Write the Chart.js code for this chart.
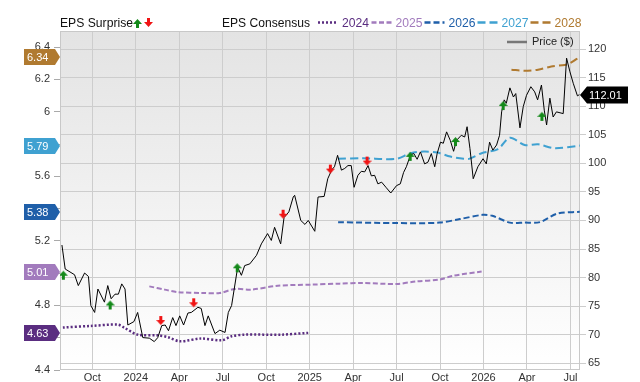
<!DOCTYPE html>
<html>
<head>
<meta charset="utf-8">
<script src="https://cdn.jsdelivr.net/npm/chart.js@4.4.1/dist/chart.umd.min.js"></script>
<style>
  body { margin: 0; background: #fff; }
  canvas { display: block; }
</style>
</head>
<body>
<canvas id="myChart" width="640" height="382"></canvas>
<script>
// x axis: quarter ticks (months from Jan 2024)
const xTickPos = [-3, 0, 3, 6, 9, 12, 15, 18, 21, 24, 27, 30];
const xTickLabels = ['Oct', '2024', 'Apr', 'Jul', 'Oct', '2025', 'Apr', 'Jul', 'Oct', '2026', 'Apr', 'Jul'];
const epsTicks = [4.4, 4.6, 4.8, 5.0, 5.2, 5.4, 5.6, 5.8, 6.0, 6.2, 6.4];
const priceTicks = [65, 70, 75, 80, 85, 90, 95, 100, 105, 110, 115, 120];

const priceDates = ['2023-07-29','2023-08-05','2023-08-25','2023-09-02','2023-09-15','2023-09-23','2023-09-28','2023-10-06','2023-10-13','2023-10-27',
  '2023-11-03','2023-11-10','2023-11-18','2023-11-25','2023-12-02','2023-12-09','2023-12-15','2023-12-28','2024-01-05','2024-01-16',
  '2024-01-30','2024-02-09','2024-02-16','2024-02-24','2024-03-02','2024-03-09','2024-03-18','2024-03-25','2024-04-02','2024-04-10',
  '2024-04-19','2024-04-26','2024-05-10','2024-05-17','2024-05-25','2024-06-01','2024-06-15','2024-06-25','2024-07-06','2024-07-13',
  '2024-07-20','2024-08-02','2024-08-10','2024-08-17','2024-08-28','2024-09-11','2024-09-21','2024-10-04','2024-10-12','2024-10-19',
  '2024-11-01','2024-11-08','2024-11-18','2024-11-27','2024-11-30','2024-12-13','2024-12-22','2024-12-29','2025-01-12','2025-01-19',
  '2025-02-01','2025-02-08','2025-02-16','2025-02-21','2025-02-27','2025-03-07','2025-03-14','2025-03-21','2025-03-28','2025-04-03',
  '2025-04-11','2025-04-18','2025-04-25','2025-05-02','2025-05-09','2025-05-16','2025-05-23','2025-05-31','2025-06-09','2025-06-19',
  '2025-07-01','2025-07-09','2025-07-16','2025-07-22','2025-07-31','2025-08-07','2025-08-14','2025-08-21','2025-08-30','2025-09-06',
  '2025-09-13','2025-09-20','2025-09-25','2025-10-02','2025-10-08','2025-10-15','2025-10-23','2025-10-30','2025-11-05','2025-11-15',
  '2025-11-22','2025-11-27','2025-12-03','2025-12-10','2025-12-20','2025-12-31','2026-01-07','2026-01-14','2026-01-21','2026-01-29',
  '2026-02-04','2026-02-08','2026-02-13','2026-02-17','2026-02-24','2026-03-03','2026-03-08','2026-03-17','2026-03-24','2026-03-31',
  '2026-04-09','2026-04-17','2026-04-23','2026-05-01','2026-05-07','2026-05-12','2026-05-19','2026-05-26','2026-06-02','2026-06-16',
  '2026-06-23','2026-06-30','2026-07-07','2026-07-16','2026-07-20'];
const priceValues = [85.7,81.5,80.5,78.6,80.8,80.2,75.1,73.9,78.0,75.7,
  78.6,76.3,77.1,77.1,78.9,78.0,71.7,72.3,73.9,69.5,
  69.4,68.8,69.5,71.6,71.7,70.7,73.0,71.6,73.3,71.7,
  73.8,73.9,74.8,74.6,71.6,73.3,70.2,70.8,70.4,73.9,
  75.1,81.8,80.4,82.1,82.4,83.9,85.9,87.7,86.5,88.8,
  85.9,90.5,91.5,94.1,94.4,90.0,89.3,90.0,88.1,94.1,
  94.2,97.3,98.9,99.4,101.4,98.8,99.1,99.6,99.6,95.8,
  97.9,98.6,98.5,99.6,97.8,97.9,96.4,96.7,95.8,94.8,
  96.1,96.4,98.4,99.4,101.5,101.7,100.7,102.0,99.9,100.2,
  101.7,99.4,101.7,103.7,103.5,105.5,104.0,102.1,104.0,104.9,
  104.6,106.4,102.6,97.3,99.4,100.8,99.9,103.7,102.3,103.2,
  104.9,109.0,111.1,110.5,113.2,111.6,112.2,106.2,109.9,111.9,
  113.4,112.5,111.1,113.7,109.3,106.7,111.4,108.1,109.0,108.7,
  118.4,116.0,114.0,111.8,112.01];
const lastPrice = 112.01;

// EPS surprise markers (arrow tip sits on the price line)
const beatDates = ['2023-08-01','2023-11-08','2024-08-01','2025-07-30','2025-11-03','2026-02-11','2026-05-02'];
const beatValues = [81.2, 76.0, 82.5, 102.0, 104.6, 110.9, 109.0];
const missDates = ['2024-02-22','2024-05-01','2024-11-06','2025-02-13','2025-04-30'];
const missValues = [71.7, 74.8, 90.3, 98.2, 99.6];

// EPS consensus by fiscal year
const cons2024Dates = ['2023-07-31','2023-09-28','2023-11-24','2023-12-08','2024-01-05','2024-02-16','2024-03-08','2024-04-02','2024-05-17','2024-06-29','2024-07-20','2024-08-17','2024-11-03','2024-12-29'];
const cons2024Values = [4.663,4.673,4.681,4.661,4.619,4.615,4.603,4.578,4.595,4.584,4.609,4.619,4.619,4.63];
const cons2025Dates = ['2024-01-30','2024-03-01','2024-03-28','2024-05-20','2024-06-25','2024-07-27','2024-08-31','2024-10-26','2025-01-05','2025-03-03','2025-04-21','2025-07-01','2025-08-12','2025-09-30','2025-10-29','2025-12-28'];
const cons2025Values = [4.918,4.898,4.883,4.877,4.877,4.902,4.898,4.922,4.929,4.935,4.939,4.933,4.949,4.96,4.984,5.01];
const cons2026Dates = ['2025-02-28','2025-07-02','2025-09-30','2025-11-12','2025-12-30','2026-01-20','2026-02-24','2026-03-26','2026-04-28','2026-06-03','2026-07-21'];
const cons2026Values = [5.316,5.31,5.313,5.335,5.361,5.355,5.313,5.313,5.316,5.368,5.38];
const cons2027Dates = ['2025-02-28','2025-04-21','2025-06-30','2025-07-31','2025-08-28','2025-09-25','2025-10-23','2025-11-20','2025-12-01','2025-12-28','2026-02-01','2026-02-24','2026-03-27','2026-04-24','2026-05-29','2026-07-21'];
const cons2027Values = [5.708,5.712,5.708,5.743,5.753,5.747,5.722,5.708,5.708,5.743,5.769,5.839,5.794,5.798,5.774,5.79];
const cons2028Dates = ['2026-02-27','2026-03-27','2026-04-24','2026-05-22','2026-06-19','2026-06-30','2026-07-21'];
const cons2028Values = [6.26,6.254,6.26,6.28,6.29,6.3,6.34];

const yearLabels = ['2024', '2025', '2026', '2027', '2028'];
const yearColors = ['#5a2d80', '#a27bbd', '#1f5fa9', '#3fa1d1', '#b07a30'];
const badgeValues = [4.63, 5.01, 5.38, 5.79, 6.34];

Chart.defaults.font.family = '"Liberation Sans", Arial, sans-serif';
Chart.defaults.font.size = 11;
Chart.defaults.color = '#333';

// month index, 0 = Jan 2024
function toM(s) {
  const [y, m, d] = s.split('-').map(Number);
  const dim = new Date(y, m, 0).getDate();
  return (y - 2024) * 12 + (m - 1) + (d - 1) / dim;
}
function pts(dates, vals) {
  return dates.map((d, i) => ({x: toM(d), y: vals[i]}));
}

function makeArrow(dir, color) {
  const c = document.createElement('canvas');
  c.width = 9; c.height = 20;
  const x = c.getContext('2d');
  x.fillStyle = color;
  x.beginPath();
  if (dir === 'up') {
    x.moveTo(4.5, 10); x.lineTo(9, 15); x.lineTo(6, 15); x.lineTo(6, 19);
    x.lineTo(3, 19); x.lineTo(3, 15); x.lineTo(0, 15);
  } else {
    x.moveTo(4.5, 10); x.lineTo(9, 5); x.lineTo(6, 5); x.lineTo(6, 1);
    x.lineTo(3, 1); x.lineTo(3, 5); x.lineTo(0, 5);
  }
  x.closePath();
  x.fill();
  return c;
}
const upArrow = makeArrow('up', '#14891a');
const downArrow = makeArrow('down', '#f01414');

const dashes = [[2, 2], [5, 2.5], [6, 3], [8, 4], [8, 4]];
const consData = [
  pts(cons2024Dates, cons2024Values),
  pts(cons2025Dates, cons2025Values),
  pts(cons2026Dates, cons2026Values),
  pts(cons2027Dates, cons2027Values),
  pts(cons2028Dates, cons2028Values)
];

const extras = {
  id: 'extras',
  beforeDraw(chart) {
    const {ctx, chartArea: a} = chart;
    const g = ctx.createLinearGradient(0, a.top, 0, a.bottom);
    g.addColorStop(0, '#e3e3e3');
    g.addColorStop(1, '#ffffff');
    ctx.save();
    ctx.fillStyle = g;
    ctx.fillRect(a.left, a.top, a.right - a.left, a.bottom - a.top);
    ctx.restore();
  },
  beforeDatasetsDraw(chart) {
    const {ctx, chartArea: a} = chart;
    ctx.save();
    ctx.strokeStyle = '#c8c8c8';
    ctx.lineWidth = 1;
    ctx.strokeRect(a.left + 0.5, a.top + 0.5, a.right - a.left - 1, a.bottom - a.top - 1);
    ctx.restore();
  },
  afterDraw(chart) {
    const {ctx} = chart;
    const yL = chart.scales.yL, yR = chart.scales.yR;
    ctx.save();
    // top legend
    ctx.font = '13px "Liberation Sans", Arial, sans-serif';
    ctx.textBaseline = 'alphabetic';
    ctx.fillStyle = '#111';
    ctx.fillText('EPS Surprise', 60, 27, 73);
    ctx.drawImage(upArrow, 133, 9);
    ctx.drawImage(downArrow, 144, 17);
    ctx.fillText('EPS Consensus', 222, 27, 88);
    const lineStarts = [318, 371.5, 424.5, 477.5, 530.5];
    yearLabels.forEach((lab, i) => {
      ctx.strokeStyle = yearColors[i];
      ctx.lineWidth = 2.5;
      ctx.setLineDash(dashes[i]);
      ctx.beginPath();
      ctx.moveTo(lineStarts[i], 22.5);
      ctx.lineTo(lineStarts[i] + 20, 22.5);
      ctx.stroke();
      ctx.setLineDash([]);
      ctx.fillStyle = yearColors[i];
      ctx.fillText(lab, lineStarts[i] + 24, 27, 27);
    });
    // price legend inside plot
    ctx.strokeStyle = '#777';
    ctx.lineWidth = 2.5;
    ctx.beginPath();
    ctx.moveTo(507, 42); ctx.lineTo(527, 42);
    ctx.stroke();
    ctx.font = '11px "Liberation Sans", Arial, sans-serif';
    ctx.textBaseline = 'middle';
    ctx.fillStyle = '#222';
    ctx.fillText('Price ($)', 532, 42);
    // left badges
    badgeValues.forEach((v, i) => {
      const y = Math.round(yL.getPixelForValue(v));
      ctx.fillStyle = yearColors[i];
      ctx.beginPath();
      ctx.moveTo(24, y - 8); ctx.lineTo(55, y - 8); ctx.lineTo(60, y);
      ctx.lineTo(55, y + 8); ctx.lineTo(24, y + 8);
      ctx.closePath();
      ctx.fill();
      ctx.fillStyle = '#fff';
      ctx.fillText(v.toFixed(2), 27, y + 0.5);
    });
    // right price badge
    const py = Math.round(yR.getPixelForValue(lastPrice));
    ctx.fillStyle = '#000';
    ctx.beginPath();
    ctx.moveTo(580, py); ctx.lineTo(587, py - 8.5); ctx.lineTo(628, py - 8.5);
    ctx.lineTo(628, py + 8.5); ctx.lineTo(587, py + 8.5);
    ctx.closePath();
    ctx.fill();
    ctx.fillStyle = '#fff';
    ctx.fillText(lastPrice.toFixed(2), 589, py + 0.5);
    ctx.restore();
  }
};

const ctx = document.getElementById('myChart').getContext('2d');
const myChart = new Chart(ctx, {
  type: 'line',
  data: {
    datasets: [
      {
        label: 'Beat', data: pts(beatDates, beatValues), yAxisID: 'yR',
        showLine: false, pointStyle: upArrow, pointRadius: 5, order: 0
      },
      {
        label: 'Miss', data: pts(missDates, missValues), yAxisID: 'yR',
        showLine: false, pointStyle: downArrow, pointRadius: 5, order: 0
      },
      {
        label: 'Price ($)', data: pts(priceDates, priceValues), yAxisID: 'yR',
        borderColor: '#000', borderWidth: 1, pointRadius: 0, tension: 0, order: 1
      },
      ...consData.map((d, i) => ({
        label: yearLabels[i], data: d, yAxisID: 'yL',
        borderColor: yearColors[i], borderWidth: i === 0 ? 2.5 : 2,
        borderDash: dashes[i], pointRadius: 0, tension: 0.3, order: 2
      }))
    ]
  },
  options: {
    responsive: false,
    animation: false,
    layout: {padding: {top: 31, left: 0, right: 0, bottom: 0}},
    plugins: {legend: {display: false}, tooltip: {enabled: false}},
    scales: {
      x: {
        type: 'linear', min: -5.23, max: 30.66,
        afterBuildTicks: s => { s.ticks = xTickPos.map(v => ({value: v})); },
        afterFit: s => { s.height = 12; },
        grid: {color: '#cdcdcd', drawTicks: false},
        border: {display: false},
        ticks: {
          padding: 1, maxRotation: 0, autoSkip: false, color: '#333',
          callback: v => xTickLabels[xTickPos.indexOf(v)]
        }
      },
      yL: {
        type: 'linear', position: 'left', min: 4.4, max: 6.5,
        afterBuildTicks: s => { s.ticks = epsTicks.map(v => ({value: v})); },
        afterFit: s => { s.width = 60; },
        grid: {drawOnChartArea: false, tickLength: 6, color: '#aaa'},
        border: {display: false},
        ticks: {padding: 4, color: '#333', callback: v => String(+v.toFixed(1))}
      },
      yR: {
        type: 'linear', position: 'right', min: 63.83, max: 123.15,
        afterBuildTicks: s => { s.ticks = priceTicks.map(v => ({value: v})); },
        afterFit: s => { s.width = 60; },
        grid: {color: '#cdcdcd', tickLength: 6},
        border: {display: false},
        ticks: {padding: 2, color: '#333'}
      }
    }
  },
  plugins: [extras]
});
</script>
</body>
</html>
